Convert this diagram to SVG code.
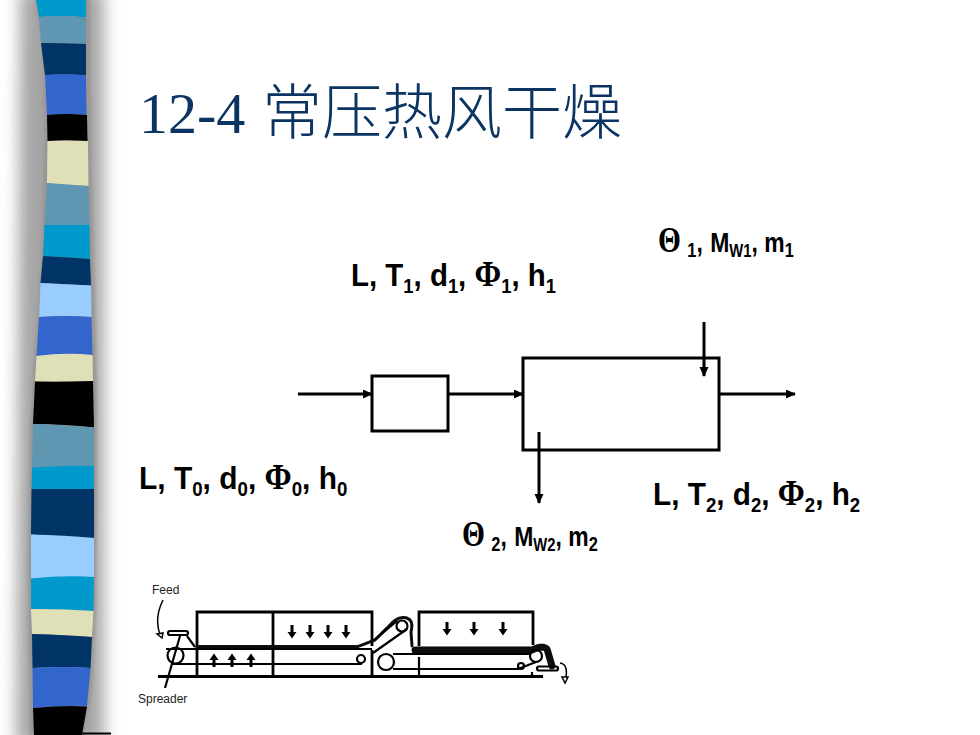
<svg xmlns="http://www.w3.org/2000/svg" width="980" height="735" viewBox="0 0 980 735">
<style>
.lb{font-family:"Liberation Sans",Arial,sans-serif;font-size:32px;font-weight:bold;fill:#000}
.sy{font-family:"Liberation Serif","DejaVu Serif",serif;font-size:35px;font-weight:bold}
.sb{font-size:20px}
.ls{font-family:"Liberation Sans",Arial,sans-serif;font-size:28px;font-weight:bold;fill:#000}
.ss{font-size:20px}
.sw{font-size:18px}
.th{font-family:"Liberation Serif","DejaVu Serif",serif;font-size:36px;font-weight:bold}
.sm{font-family:"Liberation Sans",Arial,sans-serif;font-size:12px;fill:#222}
.ln{fill:none;stroke:#000;stroke-width:3}
.c{fill:none;stroke:#000;stroke-width:2.800}
.b{fill:none;stroke:#000;stroke-width:2.200}
.m{fill:none;stroke:#111;stroke-linecap:round;stroke-dasharray:3 .8}
.a{fill:#000;stroke:none}
</style>
<defs>
<filter id="bl" x="-60%" y="-5%" width="220%" height="110%"><feGaussianBlur stdDeviation="8"/></filter>
<filter id="bs" x="-30%" y="-5%" width="160%" height="110%"><feGaussianBlur stdDeviation="1.500"/></filter>
<filter id="fz" x="-5%" y="-5%" width="110%" height="110%"><feGaussianBlur stdDeviation="0.400"/></filter>
<marker id="ah" markerUnits="userSpaceOnUse" markerWidth="10" markerHeight="10" refX="9" refY="4.500" orient="auto"><path d="M0 0L10 4.500L0 9Z" fill="#000"/></marker>
</defs>
<rect width="980" height="735" fill="#fff"/>
<g id="strip">
<path d="M20 -10H104V745H16Z" fill="#a5a5a5" filter="url(#bl)"/>
<path d="M34 -5L42 44L44 141L41 258L30 425L28 578L30 735H84L92 690L96 600L97 400L91 140L90 -5Z" fill="#9a9595" filter="url(#bs)"/>
<path d="M36 0H86V17.500Q62 15 39 17Z" fill="#0099cc"/>
<path d="M39 17Q62 15 86 17.500V44Q65 43 41 43Z" fill="#5f96b2"/>
<path d="M41 43Q65 43 86 44V75Q65 75 45 75Z" fill="#003366"/>
<path d="M45 75Q65 73 86 75.500L86.500 115Q65 113 47 115Z" fill="#3366cc"/>
<path d="M47 115Q65 113 87 115L87.500 141Q65 140 47.500 141Z" fill="#000"/>
<path d="M47.500 141Q65 140 88 141L88.500 186Q65 186 47 183Z" fill="#e0e0b8"/>
<path d="M47 183L88.500 186L89.500 225H44.500Z" fill="#5f96b2"/>
<path d="M44.500 225H89.500L90 259Q65 257 43 256Z" fill="#0099cc"/>
<path d="M43 256Q65 257 90 259L91 285.500Q65 284 40.500 283Z" fill="#003366"/>
<path d="M40.500 283Q65 284 91 285.500L91.500 317Q65 315 39 317Z" fill="#99ccff"/>
<path d="M39 317Q65 315 91.500 317L92.500 355Q65 353 36.500 356Z" fill="#3366cc"/>
<path d="M36.500 356Q65 352 92.500 355L93 381Q65 382 35 381.500Z" fill="#e0e0b8"/>
<path d="M35 381.500Q65 382 93 381L94 427.500Q65 424 33 424Z" fill="#000"/>
<path d="M33 424Q65 425 94 427.500V466Q65 466 32 467.500Z" fill="#5f96b2"/>
<path d="M32 467.500Q65 465 94 466V489H31.500Z" fill="#0099cc"/>
<path d="M31.500 489H94V538Q65 537 31 534.500Z" fill="#003366"/>
<path d="M31 534.500Q65 535 94 538V577Q65 576 31 578.500Z" fill="#99ccff"/>
<path d="M31 578.500Q65 575 94 577L93.500 611Q65 609 31 609Z" fill="#0099cc"/>
<path d="M31 609Q65 609 93.500 611L92 637Q65 635 32 634Z" fill="#e0e0b8"/>
<path d="M32 634Q65 635 92 637L90.500 668Q65 666 32.500 668Z" fill="#003366"/>
<path d="M32.500 668Q65 666 90.500 668L87 706Q65 705 33 708Z" fill="#3366cc"/>
<path d="M33 708Q65 705 87 706.500L82 735H34Z" fill="#000"/>
<path d="M82 733.500H111" stroke="#000" stroke-width="2"/>
</g>
<g id="title" fill="#0b3463">
<text x="139" y="133" font-family="'Liberation Serif','Times New Roman',serif" font-size="58">12-4</text>
<text x="262" y="134" font-family="'Noto Sans CJK SC',sans-serif" font-size="60" font-weight="300" textLength="360">常压热风干燥</text>
</g>
<g id="connectors">
<path class="ln" marker-end="url(#ah)" d="M298 394H372"/>
<path class="ln" marker-end="url(#ah)" d="M448 394H523"/>
<path class="ln" marker-end="url(#ah)" d="M719 394H795"/>
<path class="ln" marker-end="url(#ah)" d="M704 322V376"/>
<path class="ln" marker-end="url(#ah)" d="M539 432V503"/>
</g>
<g id="node-heater"><rect class="ln" x="372" y="376" width="76" height="55"/></g>
<g id="node-dryer"><rect class="ln" x="523" y="358" width="196" height="92"/></g>
<g id="label-top-left"><text class="lb" transform="translate(351 286) scale(.92 1)">L, T<tspan class="sb" dy="7">1</tspan><tspan dy="-7">, d</tspan><tspan class="sb" dy="7">1</tspan><tspan dy="-7">, </tspan><tspan class="sy">Φ</tspan><tspan class="sb" dy="7">1</tspan><tspan dy="-7">, h</tspan><tspan class="sb" dy="7">1</tspan></text></g>
<g id="label-left"><text class="lb" transform="translate(139 489) scale(.935 1)">L, T<tspan class="sb" dy="7">0</tspan><tspan dy="-7">, d</tspan><tspan class="sb" dy="7">0</tspan><tspan dy="-7">, </tspan><tspan class="sy">Φ</tspan><tspan class="sb" dy="7">0</tspan><tspan dy="-7">, h</tspan><tspan class="sb" dy="7">0</tspan></text></g>
<g id="label-right"><text class="lb" transform="translate(653 505) scale(.93 1)">L, T<tspan class="sb" dy="7">2</tspan><tspan dy="-7">, d</tspan><tspan class="sb" dy="7">2</tspan><tspan dy="-7">, </tspan><tspan class="sy">Φ</tspan><tspan class="sb" dy="7">2</tspan><tspan dy="-7">, h</tspan><tspan class="sb" dy="7">2</tspan></text></g>
<g id="label-top-right"><text class="ls" transform="translate(658 252) scale(.82 1)"><tspan class="th">Θ</tspan> <tspan class="ss" dy="5">1</tspan><tspan dy="-5">,</tspan><tspan dx="9">M</tspan><tspan class="sw" dy="5">W1</tspan><tspan dy="-5">, m</tspan><tspan class="ss" dy="5">1</tspan></text></g>
<g id="label-bottom"><text class="ls" transform="translate(462 546) scale(.82 1)"><tspan class="th">Θ</tspan> <tspan class="ss" dy="5">2</tspan><tspan dy="-5">,</tspan><tspan dx="9">M</tspan><tspan class="sw" dy="5">W2</tspan><tspan dy="-5">, m</tspan><tspan class="ss" dy="5">2</tspan></text></g>
<g id="belt-dryer">
<g filter="url(#fz)">
<path class="c" d="M197 676V612H372V646M372 650V677M273 612V677M419 646V612H533V645M158 676.500H543"/>
<path class="b" d="M166 649H372M172 664H362M419 657V675M532 672V677"/>
<path class="m" stroke-width="3" d="M197 646.500H358L375 640L393 622Q403 614 410 620Q413 623 411 632L412 646"/>
<path class="m" stroke-width="7" d="M415 650H532Q542 645 547 649L552 666"/>
<circle class="b" cx="175.500" cy="655.500" r="8"/>
<circle class="b" cx="361" cy="659" r="4"/>
<circle class="b" cx="402" cy="626" r="5.500"/>
<circle class="b" cx="386" cy="662" r="8"/>
<circle class="b" cx="536" cy="656" r="6"/>
<circle class="b" cx="521" cy="666" r="3"/>
<path class="b" d="M373 641L397 621M373 653L407 629M393 654H530M393 669H518L536 662"/>
<rect class="b" x="168" y="631" width="20" height="4" rx="2"/>
<rect class="b" x="537" y="666.500" width="21" height="4" rx="2"/>
<path class="b" d="M180 636L165 688M187 636L195 647"/>
<path d="M163 600Q154 618 160 635M560 663Q568 664 566 677" fill="none" stroke="#000" stroke-width="1.500"/>
<path d="M157 634L163 633L162 638ZM562 677H568L565 683Z" fill="#fff" stroke="#000" stroke-width="1.500"/>
<path class="a" d="M290.500 625H293.500V632H296.500L292 638.500L287.500 632H290.500ZM308.500 625H311.500V632H314.500L310 638.500L305.500 632H308.500ZM326.500 625H329.500V632H332.500L328 638.500L323.500 632H326.500ZM344.500 625H347.500V632H350.500L346 638.500L341.500 632H344.500ZM445.500 622H448.500V629H451.500L447 635.500L442.500 629H445.500ZM472.500 622H475.500V629H478.500L474 635.500L469.500 629H472.500ZM501.500 622H504.500V629H507.500L503 635.500L498.500 629H501.500Z"/>
<path class="a" d="M212.500 667H215.500V660H218.500L214 653.500L209.500 660H212.500ZM230.500 667H233.500V660H236.500L232 653.500L227.500 660H230.500ZM249.500 667H252.500V660H255.500L251 653.500L246.500 660H249.500Z"/>
</g>
<text class="sm" x="152" y="594">Feed</text>
<text class="sm" x="138" y="703">Spreader</text>
</g>
</svg>
